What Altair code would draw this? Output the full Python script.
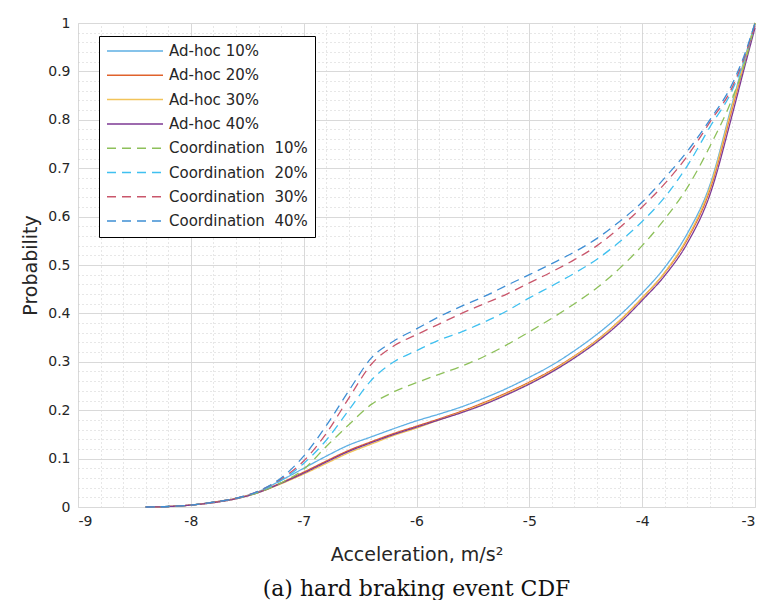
import altair as alt
import pandas as pd

# ---------------- data ----------------
accel = [-8.4, -8.2, -8.0, -7.8, -7.6, -7.4, -7.2, -7.0, -6.8, -6.6, -6.4, -6.2,
         -6.0, -5.8, -5.6, -5.4, -5.2, -5.0, -4.8, -4.6, -4.4, -4.2, -4.0, -3.8,
         -3.6, -3.4, -3.2, -3.1, -3.0]

adhoc10 = [0, 0.001, 0.004, 0.010, 0.018, 0.032, 0.055, 0.080, 0.105, 0.128, 0.145, 0.162,
           0.178, 0.192, 0.207, 0.225, 0.245, 0.268, 0.293, 0.323, 0.357, 0.396, 0.442, 0.495,
           0.565, 0.665, 0.835, 0.920, 1.0]
adhoc20 = [0, 0.001, 0.004, 0.010, 0.018, 0.031, 0.050, 0.072, 0.095, 0.117, 0.135, 0.152,
           0.167, 0.182, 0.198, 0.216, 0.236, 0.258, 0.283, 0.312, 0.345, 0.385, 0.432, 0.484,
           0.553, 0.655, 0.825, 0.912, 1.0]
adhoc30 = [0, 0.001, 0.004, 0.009, 0.017, 0.030, 0.048, 0.068, 0.090, 0.112, 0.130, 0.148,
           0.163, 0.180, 0.196, 0.214, 0.234, 0.256, 0.281, 0.311, 0.344, 0.385, 0.432, 0.485,
           0.556, 0.660, 0.830, 0.915, 1.0]
adhoc40 = [0, 0.001, 0.004, 0.009, 0.017, 0.030, 0.049, 0.070, 0.093, 0.115, 0.133, 0.150,
           0.165, 0.180, 0.195, 0.212, 0.232, 0.254, 0.279, 0.308, 0.341, 0.380, 0.427, 0.478,
           0.545, 0.645, 0.812, 0.902, 0.990]
coord10 = [0, 0.001, 0.004, 0.010, 0.018, 0.030, 0.050, 0.078, 0.125, 0.170, 0.212, 0.238,
           0.257, 0.274, 0.291, 0.311, 0.335, 0.362, 0.390, 0.420, 0.453, 0.493, 0.540, 0.595,
           0.660, 0.745, 0.845, 0.910, 1.0]
coord20 = [0, 0.001, 0.004, 0.010, 0.018, 0.032, 0.055, 0.090, 0.138, 0.200, 0.262, 0.300,
           0.323, 0.345, 0.362, 0.382, 0.405, 0.432, 0.457, 0.483, 0.512, 0.548, 0.590, 0.640,
           0.705, 0.785, 0.862, 0.920, 1.0]
coord30 = [0, 0.001, 0.004, 0.010, 0.018, 0.033, 0.058, 0.095, 0.152, 0.225, 0.295, 0.333,
           0.356, 0.378, 0.400, 0.420, 0.440, 0.463, 0.486, 0.511, 0.540, 0.577, 0.620, 0.668,
           0.725, 0.795, 0.868, 0.925, 0.995]
coord40 = [0, 0.001, 0.004, 0.010, 0.018, 0.033, 0.060, 0.105, 0.168, 0.240, 0.308, 0.343,
           0.368, 0.393, 0.415, 0.435, 0.458, 0.480, 0.503, 0.527, 0.555, 0.590, 0.630, 0.680,
           0.735, 0.800, 0.875, 0.930, 1.0]

names = ["Ad-hoc 10%", "Ad-hoc 20%", "Ad-hoc 30%", "Ad-hoc 40%",
         "Coordination\u00a0 10%", "Coordination\u00a0 20%",
         "Coordination\u00a0 30%", "Coordination\u00a0 40%"]
series = [adhoc10, adhoc20, adhoc30, adhoc40, coord10, coord20, coord30, coord40]

colors = ["#5FB0E4", "#E0622C", "#F2C45A", "#7E3A94",
          "#8DC05A", "#3FC0F0", "#C9566B", "#3E8ED4"]
dashes = [[1, 0], [1, 0], [1, 0], [1, 0], [9, 6], [9, 6], [9, 6], [9, 6]]

x_ticks = [-9, -8, -7, -6, -5, -4, -3]
y_ticks = [0, 0.1, 0.2, 0.3, 0.4, 0.5, 0.6, 0.7, 0.8, 0.9, 1]
x_minor = [round(-9 + 0.2 * i, 1) for i in range(31) if i % 5 != 0]
y_minor = [round(0.02 * i, 2) for i in range(51) if i % 5 != 0]

rows = []
for name, vals in zip(names, series):
    for xv, yv in zip(accel, vals):
        rows.append({"x": xv, "y": yv, "series": name})
df = pd.DataFrame(rows)

FONT = "DejaVu Sans"
TXT = "#262626"

base = alt.Chart(df)

minor = base.mark_line(opacity=0).encode(
    x=alt.X("x:Q", axis=alt.Axis(values=x_minor, grid=True, gridColor="#cfcfcf",
                                 gridDash=[1, 3], gridWidth=1, labels=False, ticks=False,
                                 domain=False, title=None, orient="top")),
    y=alt.Y("y:Q", axis=alt.Axis(values=y_minor, grid=True, gridColor="#cfcfcf",
                                 gridDash=[1, 3], gridWidth=1, labels=False, ticks=False,
                                 domain=False, title=None, orient="right")),
    detail="series:N",
)

legend = alt.Legend(
    title=None, orient="none", legendX=21, legendY=13,
    fillColor="white", strokeColor="black", padding=7,
    symbolType="stroke", symbolSize=3136, symbolStrokeWidth=1.5,
    clipHeight=16, rowPadding=8.3, labelOffset=5,
    labelFont=FONT, labelFontSize=15, labelColor=TXT,
)

lines = base.mark_line(strokeWidth=1.3, interpolate="monotone").encode(
    x=alt.X("x:Q",
            scale=alt.Scale(domain=[-9, -3], nice=False, zero=False),
            axis=alt.Axis(values=x_ticks, labelExpr="'' + datum.value",
                          title="Acceleration, m/s\u00b2", grid=True,
                          gridColor="#d9d9d9", ticks=False, tickSize=0, domain=False,
                          labelPadding=7, titlePadding=17, labelFont=FONT,
                          labelFontSize=14, labelColor=TXT, titleFont=FONT,
                          titleFontSize=19, titleFontWeight="normal", titleColor=TXT)),
    y=alt.Y("y:Q",
            scale=alt.Scale(domain=[0, 1], nice=False, zero=False),
            axis=alt.Axis(values=y_ticks, labelExpr="'' + datum.value",
                          title="Probability", grid=True, gridColor="#d9d9d9",
                          ticks=False, tickSize=0, domain=False, labelPadding=8,
                          titlePadding=7, labelFont=FONT, labelFontSize=14,
                          labelColor=TXT, titleFont=FONT, titleFontSize=19,
                          titleFontWeight="normal", titleColor=TXT)),
    color=alt.Color("series:N", scale=alt.Scale(domain=names, range=colors), legend=legend),
    strokeDash=alt.StrokeDash("series:N", scale=alt.Scale(domain=names, range=dashes),
                              legend=legend),
)

chart = alt.layer(minor, lines).resolve_axis(
    x="independent", y="independent"
).properties(
    width=677, height=484,
    padding={"left": 13, "top": 8, "right": 0, "bottom": 0},
    title=alt.TitleParams("(a) hard braking event CDF", orient="bottom", anchor="middle",
                          font="DejaVu Serif", fontSize=22, fontWeight="normal",
                          color="#111111", offset=15),
).configure_view(stroke="black", strokeWidth=1).configure(background="white")

chart.save("out.html", embed_options={"renderer": "svg", "actions": False})
